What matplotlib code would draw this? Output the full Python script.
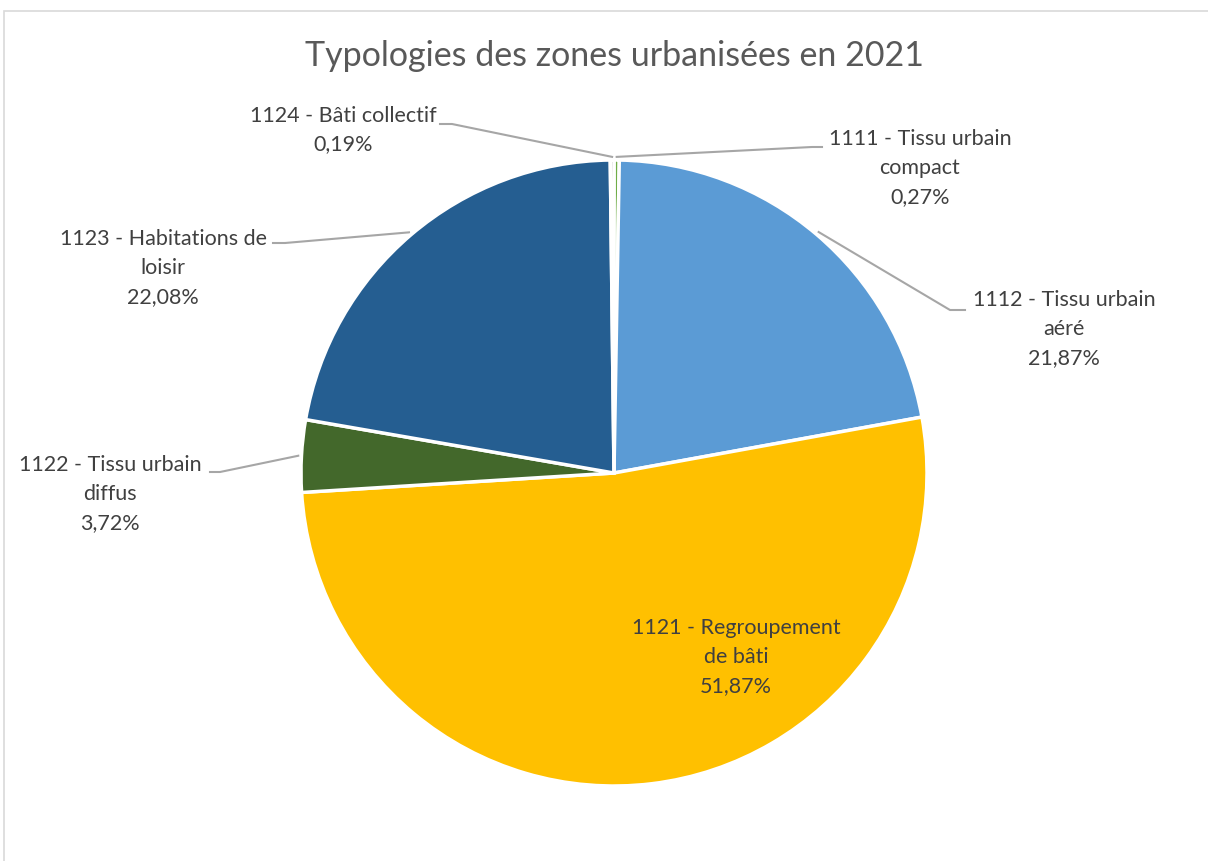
import numpy as np
import matplotlib.pyplot as plt
from matplotlib.patches import Rectangle

# données
categories = ["1111 - Tissu urbain\ncompact", "1112 - Tissu urbain\naéré",
              "1121 - Regroupement\nde bâti", "1122 - Tissu urbain\ndiffus",
              "1123 - Habitations de\nloisir", "1124 - Bâti collectif"]
valeurs = [0.27, 21.87, 51.87, 3.72, 22.08, 0.19]
couleurs = ["#70AD47", "#5B9BD5", "#FFC000", "#43682B", "#255E91", "#A5A5A5"]

W, H = 1208, 861
fig = plt.figure(figsize=(W / 100, H / 100), dpi=100)
plt.rcParams['font.family'] = ['Lato', 'DejaVu Sans']

# centre et rayon du camembert en pixels
cx, cy, r = 614, 473, 313
ax = fig.add_axes([(cx - r) / W, (H - cy - r) / H, 2 * r / W, 2 * r / H])
wedges, _ = ax.pie(valeurs, colors=couleurs, startangle=90, counterclock=False,
                   radius=1, wedgeprops=dict(edgecolor="white", linewidth=2.5))
ax.set_xlim(-1, 1)
ax.set_ylim(-1, 1)
ax.set_aspect("equal")
ax.axis("off")


def px(x, y):
    return (x - cx) / r, (cy - y) / r


# position des étiquettes (pixels) : centre du texte, coude, fin de ligne
etiquettes = {
    0: ((920, 168), (812, 147), (822, 147)),
    1: ((1064, 329), (950, 310), (965, 310)),
    2: ((736, 657), None, None),
    3: ((110, 494), (220, 472), (210, 472)),
    4: ((163, 268), (285, 243), (273, 243)),
    5: ((343, 130), (452, 124), (440, 124)),
}

for i, w in enumerate(wedges):
    pct = f"{valeurs[i]:.2f}%".replace(".", ",")
    txt, coude, fin = etiquettes[i]
    tx, ty = px(*txt)
    ax.text(tx, ty, categories[i] + "\n" + pct, ha="center", va="center",
            multialignment="center", fontsize=15.5, color="#404040", linespacing=1.55)
    if coude is not None:
        ang = np.deg2rad((w.theta1 + w.theta2) / 2)
        x0, y0 = 1.01 * np.cos(ang), 1.01 * np.sin(ang)
        x1, y1 = px(*coude)
        x2, y2 = px(*fin)
        ax.plot([x0, x1, x2], [y0, y1, y2], color="#A6A6A6", lw=1.5,
                clip_on=False, zorder=0)

fig.text(cx / W, 1 - 56 / H, "Typologies des zones urbanisées en 2021",
         ha="center", va="center", fontsize=24.5, color="#595959")

# bordure de la zone de graphique
fig.add_artist(Rectangle((4 / W, -0.1), 1.2, (H - 11) / H + 0.1,
                         transform=fig.transFigure, fill=False,
                         edgecolor="#D9D9D9", lw=1.2))

fig.savefig("out.png", dpi=100)
